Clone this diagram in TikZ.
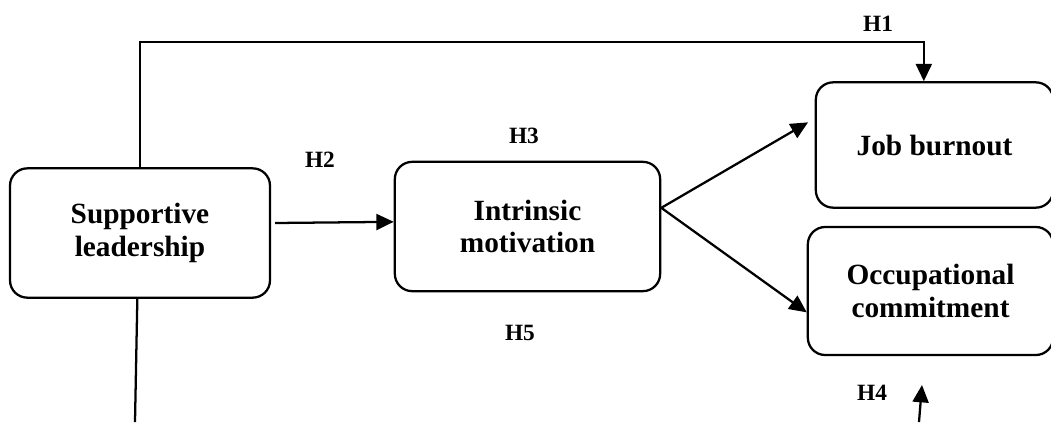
\documentclass[tikz,border=0pt]{standalone}
\usepackage{fontspec}
\setmainfont{Liberation Serif}
\usetikzlibrary{arrows.meta, positioning}
\tikzstyle{box} = [draw, rectangle, rounded corners=13pt, line width=1.7pt, align=center, font=\fontsize{22}{24.5}\selectfont\bfseries]
\tikzstyle{hyp} = [font=\fontsize{17.5}{20}\selectfont\bfseries]
\tikzstyle{link} = [line width=1.7pt, -{Triangle[length=13pt, width=12pt]}]

\begin{document}
\begin{tikzpicture}[x=0.75pt, y=-0.75pt]
\useasboundingbox (0,0) rectangle (1051,422);

\node [box, minimum width=178pt, minimum height=94pt] (JB) at (934.5,145) {Job burnout};
\node [box, minimum width=184pt, minimum height=96pt] (OC) at (930.5,291) {Occupational\\commitment};
\node [box, minimum width=195pt, minimum height=97pt] (SL) at (140,233) {Supportive\\leadership};
\node [box, minimum width=199pt, minimum height=97pt] (IM) at (527.5,226.5) {Intrinsic\\motivation};

\node [hyp] (H1) at (878,24) {H1};
\node [hyp] (H2) at (320,160) {H2};
\node [hyp] (H3) at (524,136) {H3};
\node [hyp] (H4) at (872,393) {H4};
\node [hyp] (H5) at (520,333) {H5};

\coordinate (top) at (0,42);
\coordinate (fork) at ([yshift=14pt]IM.east);
\coordinate (bottomL) at (135,422);
\coordinate (h4foot) at (919,422);
\coordinate (h4tip) at (922,385);

\draw [link] (SL.north) -- (SL.north |- top) -| ([xshift=-8pt]JB.north);
\draw [link] ([xshift=3pt, yshift=7.5pt]SL.east) -- ([yshift=3.5pt]IM.west);
\draw [link] (fork) -- ([xshift=-5pt, yshift=17pt]JB.west);
\draw [link] (fork) -- ([yshift=-16pt]OC.west);
\draw [line width=1.7pt] ([xshift=-2pt]SL.south) -- (bottomL);
\draw [link] (h4foot) -- (h4tip);

\end{tikzpicture}
\end{document}
